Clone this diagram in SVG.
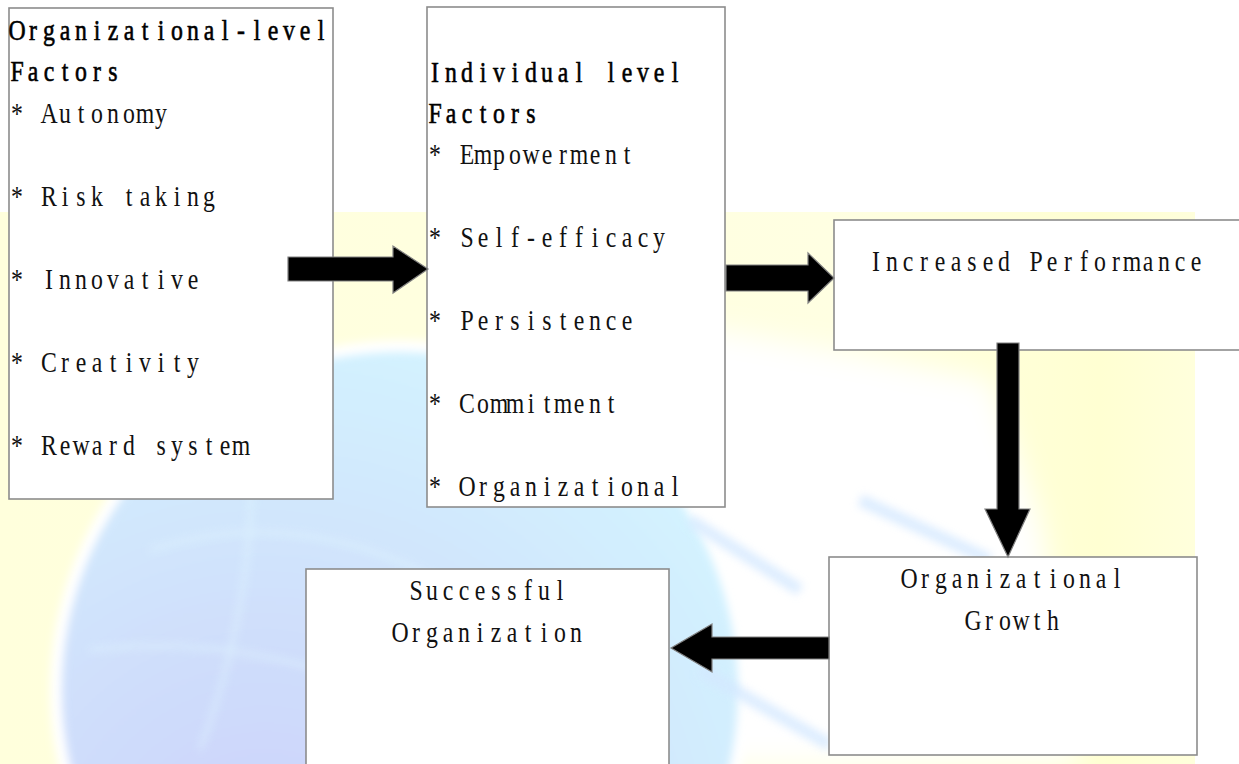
<svg xmlns="http://www.w3.org/2000/svg" width="1239" height="764" viewBox="0 0 1239 764">
<style>
.box{fill:#ffffff;stroke:#8c8c8c;stroke-width:1.6}
.arrow{fill:#000000;stroke:#808080;stroke-width:1.2;stroke-linejoin:miter}
.t{font-family:"Liberation Serif","DejaVu Serif",serif;font-size:29px;fill:#111111;text-anchor:middle}
.h{font-family:"Liberation Serif","DejaVu Serif",serif;font-size:29px;fill:#000000;stroke:#000000;stroke-width:0.6;text-anchor:middle}
</style>
<defs>
<linearGradient id="yel" x1="0" y1="0" x2="1" y2="0">
<stop offset="0" stop-color="#FFFFDC"/>
<stop offset="0.7" stop-color="#FFFFE2"/>
<stop offset="0.92" stop-color="#FFFFD2"/>
<stop offset="1" stop-color="#FFFFDC"/>
</linearGradient>
<radialGradient id="globe" cx="0.3" cy="0.78" r="0.9">
<stop offset="0" stop-color="#CCD0FA"/>
<stop offset="0.5" stop-color="#D0E2FC"/>
<stop offset="1" stop-color="#D4F6FF"/>
</radialGradient>
<filter id="blur" x="-30%" y="-30%" width="160%" height="160%"><feGaussianBlur stdDeviation="14"/></filter>
<filter id="blur2" x="-30%" y="-30%" width="160%" height="160%"><feGaussianBlur stdDeviation="4"/></filter>
</defs>
<g id="background">
<rect x="0" y="0" width="1239" height="764" fill="#ffffff"/>
<rect x="0" y="212" width="1195" height="552" fill="url(#yel)"/>
<path d="M520 322 L720 330 L990 380 L1040 520 L1080 764 L520 764 Z" fill="#ffffff" filter="url(#blur)"/>
<circle cx="400" cy="690" r="350" fill="#ffffff" filter="url(#blur2)"/>
<circle cx="400" cy="690" r="338" fill="url(#globe)" filter="url(#blur2)"/>
<g stroke="#E2F8FF" stroke-width="4" fill="none" opacity="0.6" filter="url(#blur2)">
<path d="M150 550 Q300 500 460 590 Q560 640 620 730"/>
<path d="M250 430 Q260 590 200 750"/>
<path d="M90 650 Q260 630 420 710"/>
</g>
<g stroke="#D4E8FF" stroke-width="12" fill="none" opacity="0.8" filter="url(#blur2)">
<path d="M700 670 L830 745"/>
<path d="M690 520 L800 590"/>
<path d="M860 500 L990 560"/>
</g>
</g>
<g id="node-org-factors">
<rect class="box" x="9" y="8" width="324" height="491"/>
<g transform="translate(9 0) scale(0.82 1)">
<text class="h" y="40" x="9.8 29.3 48.8 68.3 87.8 107.3 126.8 146.3 165.9 185.4 204.9 224.4 243.9 263.4 282.9 302.4 322 341.5 361 380.5 400 419.5">Organizational-level</text>
<text class="h" y="81.5" x="9.8 29.3 48.8 68.3 87.8 107.3 126.8 146.3 165.9 185.4 204.9 224.4 243.9 263.4 282.9 302.4 322 341.5 361 380.5 400 419.5">Factors</text>
<text class="t" y="123" x="9.8 29.3 48.8 68.3 87.8 107.3 126.8 146.3 165.9 185.4 204.9 224.4 243.9 263.4 282.9 302.4 322 341.5 361 380.5 400 419.5">* Autonomy</text>
<text class="t" y="206" x="9.8 29.3 48.8 68.3 87.8 107.3 126.8 146.3 165.9 185.4 204.9 224.4 243.9 263.4 282.9 302.4 322 341.5 361 380.5 400 419.5">* Risk taking</text>
<text class="t" y="289" x="9.8 29.3 48.8 68.3 87.8 107.3 126.8 146.3 165.9 185.4 204.9 224.4 243.9 263.4 282.9 302.4 322 341.5 361 380.5 400 419.5">* Innovative</text>
<text class="t" y="372" x="9.8 29.3 48.8 68.3 87.8 107.3 126.8 146.3 165.9 185.4 204.9 224.4 243.9 263.4 282.9 302.4 322 341.5 361 380.5 400 419.5">* Creativity</text>
<text class="t" y="455" x="9.8 29.3 48.8 68.3 87.8 107.3 126.8 146.3 165.9 185.4 204.9 224.4 243.9 263.4 282.9 302.4 322 341.5 361 380.5 400 419.5">* Reward system</text>
</g>
</g>
<g id="node-individual-factors">
<rect class="box" x="427" y="7" width="298" height="500"/>
<g transform="translate(427 0) scale(0.82 1)">
<text class="h" y="82" x="9.8 29.3 48.8 68.3 87.8 107.3 126.8 146.3 165.9 185.4 204.9 224.4 243.9 263.4 282.9 302.4 322 341.5 361 380.5 400 419.5">Individual level</text>
<text class="h" y="123" x="9.8 29.3 48.8 68.3 87.8 107.3 126.8 146.3 165.9 185.4 204.9 224.4 243.9 263.4 282.9 302.4 322 341.5 361 380.5 400 419.5">Factors</text>
<text class="t" y="164" x="9.8 29.3 48.8 68.3 87.8 107.3 126.8 146.3 165.9 185.4 204.9 224.4 243.9 263.4 282.9 302.4 322 341.5 361 380.5 400 419.5">* Empowerment</text>
<text class="t" y="247" x="9.8 29.3 48.8 68.3 87.8 107.3 126.8 146.3 165.9 185.4 204.9 224.4 243.9 263.4 282.9 302.4 322 341.5 361 380.5 400 419.5">* Self-efficacy</text>
<text class="t" y="330" x="9.8 29.3 48.8 68.3 87.8 107.3 126.8 146.3 165.9 185.4 204.9 224.4 243.9 263.4 282.9 302.4 322 341.5 361 380.5 400 419.5">* Persistence</text>
<text class="t" y="413" x="9.8 29.3 48.8 68.3 87.8 107.3 126.8 146.3 165.9 185.4 204.9 224.4 243.9 263.4 282.9 302.4 322 341.5 361 380.5 400 419.5">* Commitment</text>
<text class="t" y="496" x="9.8 29.3 48.8 68.3 87.8 107.3 126.8 146.3 165.9 185.4 204.9 224.4 243.9 263.4 282.9 302.4 322 341.5 361 380.5 400 419.5">* Organizational</text>
</g>
</g>
<g id="node-increased-performance">
<rect class="box" x="834" y="220" width="420" height="130"/>
<g transform="translate(868 0) scale(0.82 1)">
<text class="t" y="271" x="9.8 29.3 48.8 68.3 87.8 107.3 126.8 146.3 165.9 185.4 204.9 224.4 243.9 263.4 282.9 302.4 322 341.5 361 380.5 400 419.5">Increased Performance</text>
</g>
</g>
<g id="node-organizational-growth">
<rect class="box" x="829" y="557" width="368" height="198"/>
<g transform="translate(901 0) scale(0.82 1)">
<text class="t" y="588" x="9.8 29.3 48.8 68.3 87.8 107.3 126.8 146.3 165.9 185.4 204.9 224.4 243.9 263.4 282.9 302.4 322 341.5 361 380.5 400 419.5">Organizational</text>
</g>
<g transform="translate(965 0) scale(0.82 1)">
<text class="t" y="630" x="9.8 29.3 48.8 68.3 87.8 107.3 126.8 146.3 165.9 185.4 204.9 224.4 243.9 263.4 282.9 302.4 322 341.5 361 380.5 400 419.5">Growth</text>
</g>
</g>
<g id="node-successful-organization">
<rect class="box" x="306" y="569" width="363" height="210"/>
<g transform="translate(408 0) scale(0.82 1)">
<text class="t" y="600" x="9.8 29.3 48.8 68.3 87.8 107.3 126.8 146.3 165.9 185.4 204.9 224.4 243.9 263.4 282.9 302.4 322 341.5 361 380.5 400 419.5">Successful</text>
</g>
<g transform="translate(392 0) scale(0.82 1)">
<text class="t" y="642" x="9.8 29.3 48.8 68.3 87.8 107.3 126.8 146.3 165.9 185.4 204.9 224.4 243.9 263.4 282.9 302.4 322 341.5 361 380.5 400 419.5">Organization</text>
</g>
</g>
<g id="connectors">
<polygon class="arrow" points="288,257 393,257 393,246 428,269 393,293 393,281 288,281"/>
<polygon class="arrow" points="726,265 808,265 808,253 834,278 808,303 808,291 726,291"/>
<polygon class="arrow" points="997,343 1019,343 1019,509 1030,509 1008,557 985,509 997,509"/>
<polygon class="arrow" points="829,637 712,637 712,624 671,648 712,672 712,659 829,659"/>
</g>
</svg>
